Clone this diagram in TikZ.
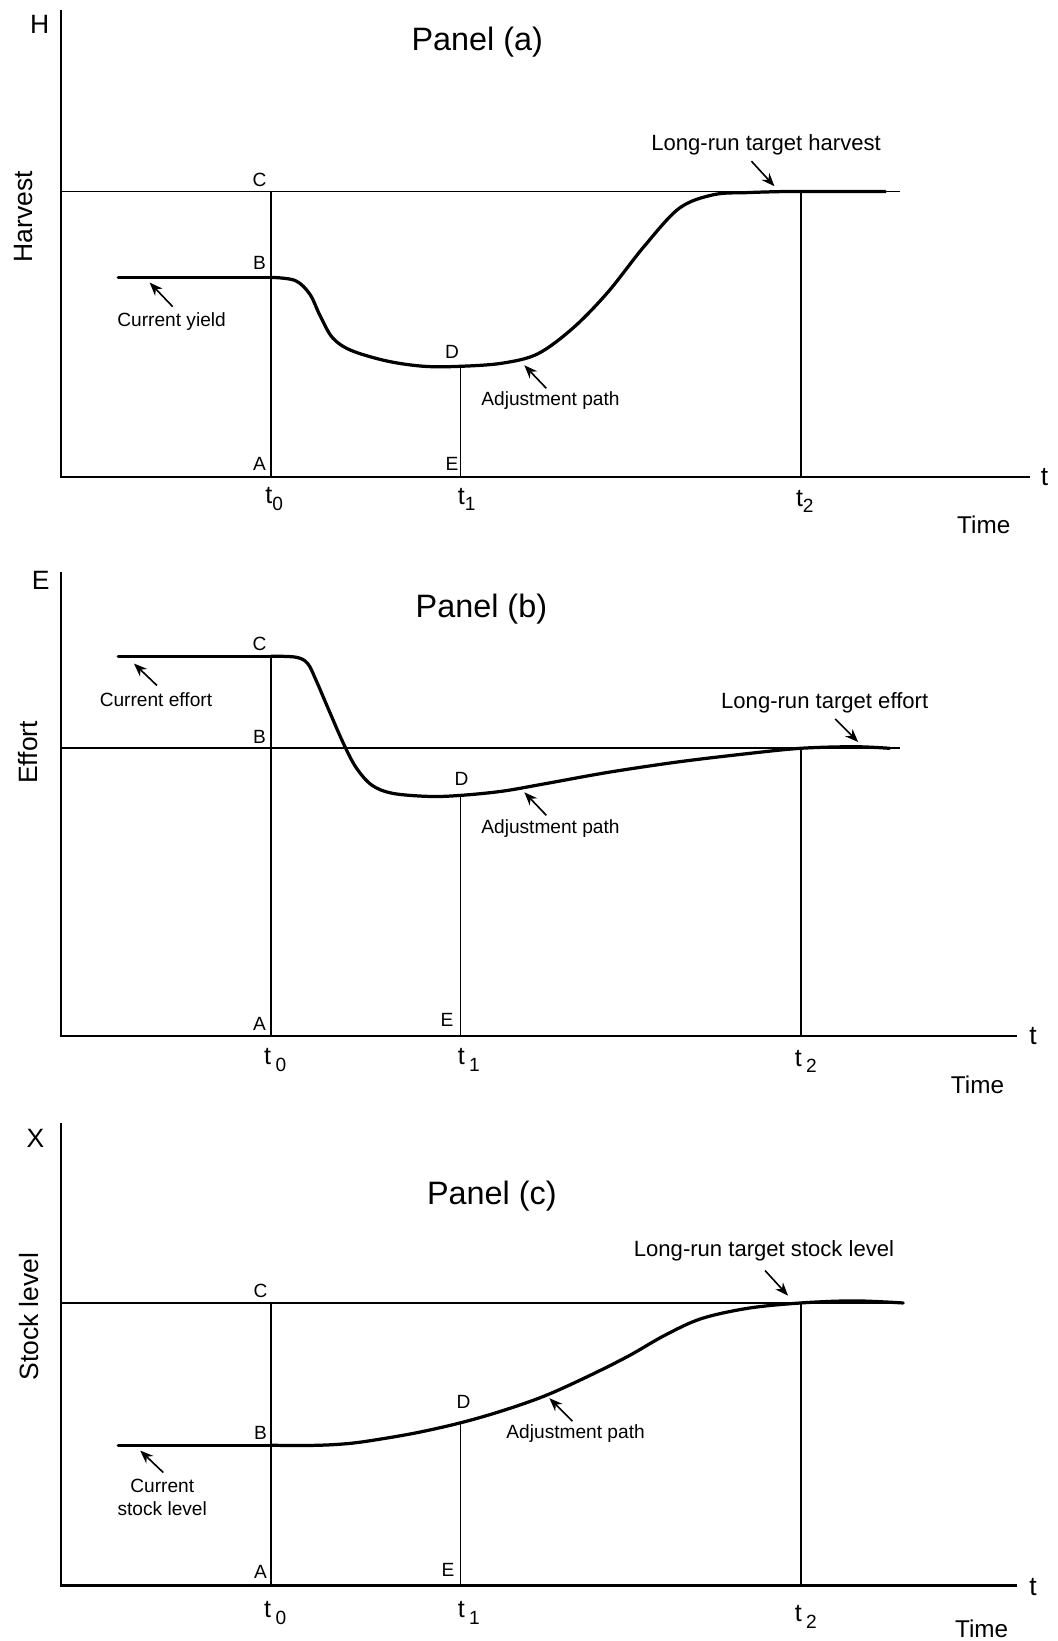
\documentclass[tikz,border=0pt]{standalone}
\usepackage{fontspec}
\setmainfont{Liberation Sans}
\usetikzlibrary{arrows.meta}
\newcommand{\tlab}[2]{t\kern#1\raisebox{-0.5ex}{\fontsize{13}{13}\selectfont #2}}
\begin{document}
\begin{tikzpicture}[x=0.025cm,y=-0.025cm,
  axisline/.style={line width=1.6pt},
  refline/.style={line width=1.25pt},
  pathline/.style={line width=2.2pt, line cap=round, line join=round},
  ptr/.style={-{Stealth[length=9pt,width=7pt]}, line width=1.1pt},
  ptlabel/.style={font=\fontsize{13}{15}\selectfont, inner sep=0pt},
  note/.style={font=\fontsize{13}{15.5}\selectfont, inner sep=0pt, align=center},
  longnote/.style={font=\fontsize{15}{17}\selectfont, inner sep=0pt},
  paneltitle/.style={font=\fontsize{22}{26}\selectfont, inner sep=0pt},
  axislbl/.style={font=\fontsize{18}{20}\selectfont, inner sep=0pt},
  ylbl/.style={font=\fontsize{18}{20}\selectfont, inner sep=0pt, rotate=90},
  tick/.style={font=\fontsize{17}{19}\selectfont, inner sep=0pt},
  timelbl/.style={font=\fontsize{16.5}{19}\selectfont, inner sep=0pt}]
\useasboundingbox (0,0) rectangle (1010,1568);

% ================= Panel (a) =================
\coordinate (aO) at (58,456);
\coordinate (aTop) at (58,10);
\coordinate (aEnd) at (984,456);
\coordinate (aCl) at (58,183);
\coordinate (aCr) at (860,183);
\coordinate (aC) at (259,183);
\coordinate (aB) at (259,265);
\coordinate (aA) at (259,456);
\coordinate (aD) at (440,350);
\coordinate (aE) at (440,456);
\coordinate (aT2top) at (765,183);
\coordinate (aT2bot) at (765,456);
\coordinate (aCur) at (113,265);
\draw[axisline] (aTop) -- (aO) -- (aEnd);
\draw[refline] (aCl) -- (aCr);
\draw[refline] (aC) -- (aA);
\draw[refline] (aD) -- (aE);
\draw[refline] (aT2top) -- (aT2bot);
\draw[pathline] (aCur) -- (aB);
\draw[pathline] plot[smooth, tension=0.55] coordinates {(259,265) (282,268) (296,281) (306,302) (318,323) (336,335) (370,345) (405,350) (440,350) (480,347) (514,338) (548,313) (581,279) (615,236) (649,199) (682,186) (715,184) (749,183) (765,183) (846,183)};
\node[axislbl] (aH) at (38,23) {H};
\node[ylbl] (aHarv) at (22,207) {Harvest};
\node[paneltitle] (aTitle) at (456,40) {Panel (a)};
\node[ptlabel] (aLC) at (248,172) {C};
\node[ptlabel] (aLB) at (248,251) {B};
\node[ptlabel] (aLA) at (248,443) {A};
\node[ptlabel] (aLD) at (432,336) {D};
\node[ptlabel] (aLE) at (432,443) {E};
\node[tick] (at0) at (262,477) {\tlab{0pt}{0}};
\node[tick] (at1) at (446,477) {\tlab{0pt}{1}};
\node[tick] (at2) at (769,479) {\tlab{0pt}{2}};
\node[axislbl] (at) at (998,456) {t};
\node[timelbl] (aTime) at (940,501) {Time};
\node[note] (aCurTxt) at (164,307) {Current yield};
\coordinate (aCurA1) at (165,293);
\coordinate (aCurA2) at (143,270);
\draw[ptr] (aCurA1) -- (aCurA2);
\node[note] (aAdjTxt) at (526,383) {Adjustment path};
\coordinate (aAdjA1) at (522,371);
\coordinate (aAdjA2) at (501,349);
\draw[ptr] (aAdjA1) -- (aAdjA2);
\node[longnote] (aLRTxt) at (732,138) {Long-run target harvest};
\coordinate (aLRA1) at (718,154);
\coordinate (aLRA2) at (740,178);
\draw[ptr] (aLRA1) -- (aLRA2);

% ================= Panel (b) =================
\coordinate (bO) at (58,990);
\coordinate (bTop) at (58,547);
\coordinate (bEnd) at (972,990);
\coordinate (bBl) at (58,715);
\coordinate (bBr) at (860,715);
\coordinate (bC) at (259,627);
\coordinate (bA) at (259,990);
\coordinate (bD) at (440,760);
\coordinate (bE) at (440,990);
\coordinate (bT2top) at (765,715);
\coordinate (bT2bot) at (765,990);
\coordinate (bCur) at (113,627);
\draw[axisline] (bTop) -- (bO) -- (bEnd);
\draw[refline] (bBl) -- (bBr);
\draw[refline] (bC) -- (bA);
\draw[refline] (bD) -- (bE);
\draw[refline] (bT2top) -- (bT2bot);
\draw[pathline] (bCur) -- (bC);
\draw[pathline] plot[smooth, tension=0.55] coordinates {(259,627) (283,628) (294,634) (302,650) (314,678) (328,710) (340,733) (355,750) (375,758) (410,761) (440,760) (480,756) (520,749) (581,738) (648,728) (715,720) (765,715) (816,713.5) (850,715)};
\node[axislbl] (bEl) at (39,555) {E};
\node[ylbl] (bEff) at (27,719) {Effort};
\node[paneltitle] (bTitle) at (460,582) {Panel (b)};
\node[ptlabel] (bLC) at (248,615) {C};
\node[ptlabel] (bLB) at (248,704) {B};
\node[ptlabel] (bLA) at (248,978) {A};
\node[ptlabel] (bLD) at (441,744) {D};
\node[ptlabel] (bLE) at (427,975) {E};
\node[tick] (bt0) at (263,1013) {\tlab{3pt}{0}};
\node[tick] (bt1) at (448,1013) {\tlab{3pt}{1}};
\node[tick] (bt2) at (770,1014) {\tlab{3pt}{2}};
\node[axislbl] (bt) at (987,990) {t};
\node[timelbl] (bTime) at (934,1037) {Time};
\node[note] (bCurTxt) at (149,669) {Current effort};
\coordinate (bCurA1) at (150,655);
\coordinate (bCurA2) at (128,634);
\draw[ptr] (bCurA1) -- (bCurA2);
\node[note] (bAdjTxt) at (526,792) {Adjustment path};
\coordinate (bAdjA1) at (522,779);
\coordinate (bAdjA2) at (501,757);
\draw[ptr] (bAdjA1) -- (bAdjA2);
\node[longnote] (bLRTxt) at (788,672) {Long-run target effort};
\coordinate (bLRA1) at (798,687);
\coordinate (bLRA2) at (820,709);
\draw[ptr] (bLRA1) -- (bLRA2);

% ================= Panel (c) =================
\coordinate (cO) at (58,1515);
\coordinate (cTop) at (58,1073);
\coordinate (cEnd) at (972,1515);
\coordinate (cCl) at (58,1245);
\coordinate (cCr) at (862,1245);
\coordinate (cC) at (259,1245);
\coordinate (cB) at (259,1381);
\coordinate (cA) at (259,1515);
\coordinate (cD) at (440,1359);
\coordinate (cE) at (440,1515);
\coordinate (cT2top) at (765,1245);
\coordinate (cT2bot) at (765,1515);
\coordinate (cCur) at (113,1381);
\draw[axisline] (cTop) -- (cO) -- (cEnd);
\draw[refline] (cCl) -- (cCr);
\draw[refline] (cC) -- (cA);
\draw[refline] (cD) -- (cE);
\draw[refline] (cT2top) -- (cT2bot);
\draw[pathline] (cCur) -- (cB);
\draw[pathline] plot[smooth, tension=0.55] coordinates {(259,1381) (303,1381) (336,1379) (370,1374) (403,1368) (442,1359) (480,1348) (520,1334) (560,1316) (600,1296) (635,1276) (670,1260) (715,1250) (765,1245) (816,1243) (863,1245)};
\node[axislbl] (cX) at (34,1088) {X};
\node[ylbl] (cStk) at (28,1258) {Stock level};
\node[paneltitle] (cTitle) at (470,1143) {Panel (c)};
\node[ptlabel] (cLC) at (249,1233) {C};
\node[ptlabel] (cLB) at (249,1369) {B};
\node[ptlabel] (cLA) at (249,1502) {A};
\node[ptlabel] (cLD) at (443,1340) {D};
\node[ptlabel] (cLE) at (428,1500) {E};
\node[tick] (ct0) at (263,1541) {\tlab{3pt}{0}};
\node[tick] (ct1) at (448,1541) {\tlab{3pt}{1}};
\node[tick] (ct2) at (770,1545) {\tlab{3pt}{2}};
\node[axislbl] (ct) at (987,1516) {t};
\node[timelbl] (cTime) at (938,1556) {Time};
\node[note] (cCurTxt) at (155,1431) {Current\\stock level};
\coordinate (cCurA1) at (156,1407);
\coordinate (cCurA2) at (134,1386);
\draw[ptr] (cCurA1) -- (cCurA2);
\node[note] (cAdjTxt) at (550,1370) {Adjustment path};
\coordinate (cAdjA1) at (547,1358);
\coordinate (cAdjA2) at (525,1336);
\draw[ptr] (cAdjA1) -- (cAdjA2);
\node[longnote] (cLRTxt) at (730,1195) {Long-run target stock level};
\coordinate (cLRA1) at (731,1214);
\coordinate (cLRA2) at (753,1238);
\draw[ptr] (cLRA1) -- (cLRA2);
\end{tikzpicture}
\end{document}
